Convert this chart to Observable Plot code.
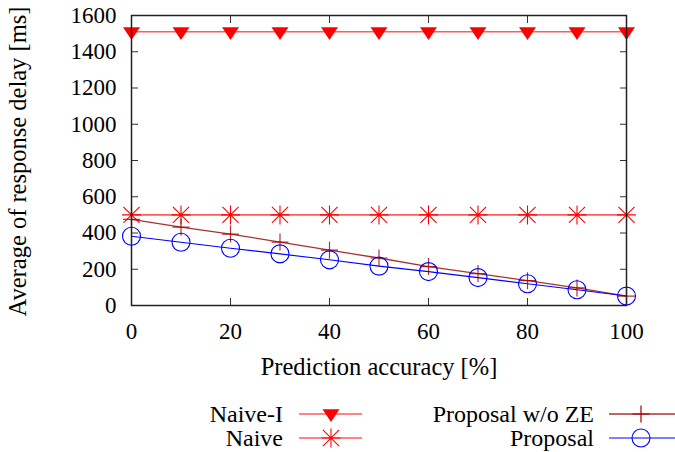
<!DOCTYPE html>
<html><head><meta charset="utf-8">
<script src="https://cdn.jsdelivr.net/npm/d3@7"></script>
<script src="https://cdn.jsdelivr.net/npm/@observablehq/plot@0.6"></script>
<style>
body{margin:0;background:#fff;}
#wrap{position:relative;width:675px;height:452px;font-family:"Liberation Serif","Times New Roman",Times,serif;overflow:hidden;}
#wrap svg{display:block}
#wrap svg text{font-family:"Liberation Serif","Times New Roman",Times,serif;}
.leg{position:absolute;font-size:24px;line-height:24px;white-space:nowrap;color:#000;text-align:right}
#legsvg{position:absolute;left:0;top:0}
</style></head><body><div id="wrap"></div>
<script>
// ---- data ----
const accuracy = [0, 10, 20, 30, 40, 50, 60, 70, 80, 90, 100];
const naiveI = [1510, 1510, 1510, 1510, 1510, 1510, 1510, 1510, 1510, 1510, 1510];
const naive = [500, 500, 500, 500, 500, 500, 500, 500, 500, 500, 500];
const proposalWoZE = [475, 432, 394, 350, 305, 262, 215, 176, 137, 97, 52];
const proposal = [382, 349, 316, 285, 252, 217, 187, 154, 120, 87, 52];
const xTicks = [0, 20, 40, 60, 80, 100];
const yTicks = [0, 200, 400, 600, 800, 1000, 1200, 1400, 1600];
const xLabel = "Prediction accuracy [%]";
const yLabel = "Average of response delay [ms]";
const seriesNames = ["Naive-I", "Naive", "Proposal w/o ZE", "Proposal"];

// ---- symbols ----
const symDown = {draw(ctx, size){ const r = Math.sqrt(size/Math.PI);
  ctx.moveTo(-r, -r*0.55); ctx.lineTo(r, -r*0.55); ctx.lineTo(0, r*0.95); ctx.closePath(); }};
const symStar = {draw(ctx, size){ const r = Math.sqrt(size/Math.PI); const d = r*0.85;
  ctx.moveTo(-r,0); ctx.lineTo(r,0); ctx.moveTo(0,-r); ctx.lineTo(0,r);
  ctx.moveTo(-d,-d); ctx.lineTo(d,d); ctx.moveTo(-d,d); ctx.lineTo(d,-d); }};
const symPlus = {draw(ctx, size){ const r = Math.sqrt(size/Math.PI);
  ctx.moveTo(-r,0); ctx.lineTo(r,0); ctx.moveTo(0,-r); ctx.lineTo(0,r); }};

const tbl = (vals) => accuracy.map((x, i) => ({x, y: vals[i]}));
const dNaiveI = tbl(naiveI), dNaive = tbl(naive), dWoZE = tbl(proposalWoZE), dProp = tbl(proposal);

const cNaiveLine = "#ff5c5c", cRed = "#ff0000", cBrownLine = "#a83232", cBrown = "#a00000", cBlue = "#0000ff";
const FONT = "Liberation Serif, Times New Roman, serif";
const fmt = d => String(d);

const chart = Plot.plot({
  width: 675, height: 385,
  marginLeft: 131, marginRight: 49, marginTop: 15, marginBottom: 80,
  x: {domain: [0, 100]},
  y: {domain: [0, 1600]},
  style: {fontFamily: FONT, fontSize: "23px", color: "black", background: "white"},
  marks: [
    Plot.axisY({ticks: yTicks, tickSize: 0, tickPadding: 15, tickFormat: fmt, label: null, fontSize: 23}),
    Plot.axisY({ticks: yTicks, tickSize: -7, tickFormat: () => "", label: null, stroke: "#333"}),
    Plot.axisY({anchor: "right", ticks: yTicks, tickSize: -7, tickFormat: () => "", label: null, stroke: "#333"}),
    Plot.axisX({ticks: xTicks, tickSize: 0, tickPadding: 17, tickFormat: fmt, label: null, fontSize: 23}),
    Plot.axisX({ticks: xTicks, tickSize: -7, tickFormat: () => "", label: null, stroke: "#333"}),
    Plot.axisX({anchor: "top", ticks: xTicks, tickSize: -7, tickFormat: () => "", label: null, stroke: "#333"}),
    Plot.line(dNaiveI, {x: "x", y: "y", stroke: cNaiveLine, strokeWidth: 1.6}),
    Plot.line(dNaive, {x: "x", y: "y", stroke: cNaiveLine, strokeWidth: 1.6}),
    Plot.line(dWoZE, {x: "x", y: "y", stroke: cBrownLine, strokeWidth: 1.3}),
    Plot.line(dProp, {x: "x", y: "y", stroke: cBlue, strokeWidth: 1.1}),
    Plot.dot(dNaiveI, {x: "x", y: "y", symbol: symDown, r: 8.5, fill: cRed, stroke: "none"}),
    Plot.dot(dNaive, {x: "x", y: "y", symbol: symStar, r: 9.5, fill: "none", stroke: cRed, strokeWidth: 1.1}),
    Plot.dot(dWoZE, {x: "x", y: "y", symbol: symPlus, r: 8.5, fill: "none", stroke: cBrown, strokeWidth: 1.2, strokeOpacity: 0.8}),
    Plot.dot(dProp, {x: "x", y: "y", symbol: "circle", r: 9, fill: "none", stroke: cBlue, strokeWidth: 1.1}),
    Plot.frame({stroke: "#222", strokeWidth: 1.5}),
    Plot.text([yLabel], {text: d => d, frameAnchor: "left", textAnchor: "middle", rotate: -90, dx: -113, dy: 1, lineAnchor: "middle", fontSize: 24.5}),
    Plot.text([xLabel], {text: d => d, frameAnchor: "bottom", textAnchor: "middle", dy: 62, lineAnchor: "middle", fontSize: 24.5})
  ]
});
const wrap = document.getElementById("wrap");
wrap.appendChild(chart);

// ---- legend (below the chart) ----
const legendItems = [
  {name: seriesNames[0], textRight: 283, cy: 414, x1: 299, x2: 362, mx: 331, line: cNaiveLine, lw: 1.6, sym: symDown, r: 8.5, fill: cRed, stroke: "none", sw: 0},
  {name: seriesNames[1], textRight: 283, cy: 438, x1: 299, x2: 362, mx: 331, line: cNaiveLine, lw: 1.6, sym: symStar, r: 9.5, fill: "none", stroke: cRed, sw: 1.1},
  {name: seriesNames[2], textRight: 594, cy: 414, x1: 609, x2: 675, mx: 641, line: cBrownLine, lw: 1.3, sym: symPlus, r: 8.5, fill: "none", stroke: cBrown, sw: 1.2},
  {name: seriesNames[3], textRight: 594, cy: 438, x1: 609, x2: 675, mx: 641, line: cBlue, lw: 1.1, sym: d3.symbolCircle, r: 9, fill: "none", stroke: cBlue, sw: 1.1}
];
const svg = d3.select(wrap).append("svg").attr("id", "legsvg").attr("width", 675).attr("height", 452);
for (const it of legendItems) {
  const div = document.createElement("div");
  div.className = "leg";
  div.textContent = it.name;
  div.style.right = (675 - it.textRight) + "px";
  div.style.top = (it.cy - 12) + "px";
  wrap.appendChild(div);
  svg.append("line").attr("x1", it.x1).attr("x2", it.x2).attr("y1", it.cy).attr("y2", it.cy)
    .attr("stroke", it.line).attr("stroke-width", it.lw);
  svg.append("path").attr("d", d3.symbol().type(it.sym).size(Math.PI * it.r * it.r)())
    .attr("transform", `translate(${it.mx},${it.cy})`)
    .attr("fill", it.fill).attr("stroke", it.stroke).attr("stroke-width", it.sw);
}
</script></body></html>
